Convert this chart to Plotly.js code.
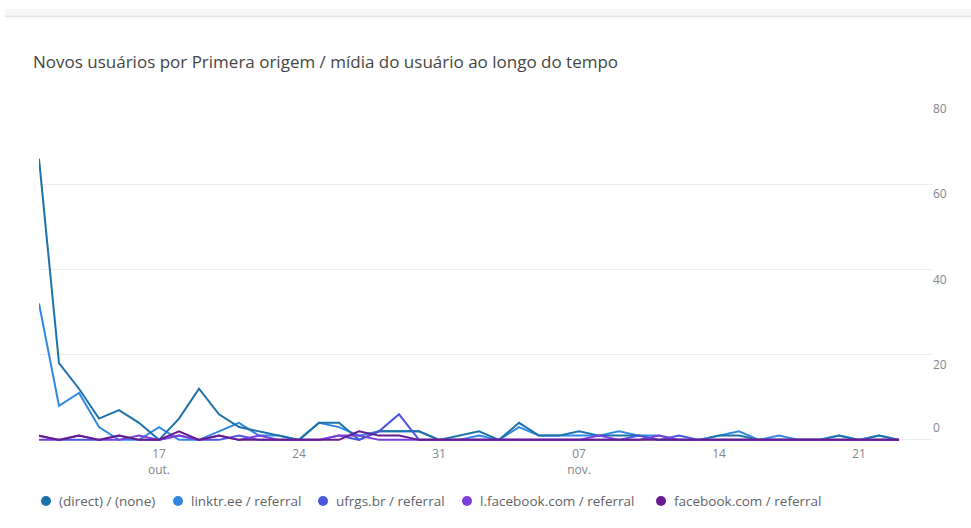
<!DOCTYPE html>
<html>
<head>
<meta charset="utf-8">
<script src="https://cdn.plot.ly/plotly-3.0.1.min.js"></script>
<style>html,body{margin:0;padding:0;background:#fff;}#chart{width:971px;height:528px;}</style>
</head>
<body>
<div id="chart"></div>
<script>
// ---- data ----
const dates = [
  '2021-10-11','2021-10-12','2021-10-13','2021-10-14','2021-10-15','2021-10-16','2021-10-17','2021-10-18','2021-10-19','2021-10-20',
  '2021-10-21','2021-10-22','2021-10-23','2021-10-24','2021-10-25','2021-10-26','2021-10-27','2021-10-28','2021-10-29','2021-10-30',
  '2021-10-31','2021-11-01','2021-11-02','2021-11-03','2021-11-04','2021-11-05','2021-11-06','2021-11-07','2021-11-08','2021-11-09',
  '2021-11-10','2021-11-11','2021-11-12','2021-11-13','2021-11-14','2021-11-15','2021-11-16','2021-11-17','2021-11-18','2021-11-19',
  '2021-11-20','2021-11-21','2021-11-22','2021-11-23'
];
const seriesNames = ['(direct) / (none)', 'linktr.ee / referral', 'ufrgs.br / referral', 'l.facebook.com / referral', 'facebook.com / referral'];
const direct    = [66,18,12,5,7,4,0,5,12,6, 3,2,1,0,4,4,0,2,2,2, 0,1,2,0,4,1,1,2,1,1, 1,0,0,0,1,1,0,0,0,0, 1,0,1,0];
const linktr    = [32,8,11,3,0,0,3,0,0,2, 4,1,1,0,4,3,1,2,2,2, 0,0,1,0,3,1,1,1,1,2, 1,1,0,0,1,2,0,1,0,0, 1,0,1,0];
const ufrgs     = [1,0,0,0,1,0,0,1,0,0, 1,0,0,0,0,1,0,2,6,0, 0,0,0,0,0,0,0,0,0,0, 1,0,1,0,0,0,0,0,0,0, 0,0,0,0];
const lfacebook = [0,0,1,0,0,1,0,1,0,1, 0,1,0,0,0,1,1,0,0,0, 0,0,0,0,0,0,0,0,1,0, 0,1,0,0,0,0,0,0,0,0, 0,0,0,0];
const facebook  = [1,0,1,0,1,0,0,2,0,1, 0,0,0,0,0,0,2,1,1,0, 0,0,0,0,0,0,0,0,0,0, 0,0,0,0,0,0,0,0,0,0, 0,0,0,0];
const xTickVals = ['2021-10-17','2021-10-24','2021-10-31','2021-11-07','2021-11-14','2021-11-21'];
const xTickText = ['17<br>out.','24','31','07<br>nov.','14','21'];
const yTickVals = [0,20,40,60,80];
const yTickText = ['','20','40','60','80'];
const chartTitle = 'Novos usuários por Primera origem / mídia do usuário ao longo do tempo';

// ---- styles ----
const colors = ['#1c72aa', '#3088e3', '#4b55e0', '#7a3ede', '#681a90'];
const legendDotX = [46, 178, 323, 467, 661];   // px
const legendTextX = [57, 189, 334, 478, 672];  // px
const values = [direct, linktr, ufrgs, lfacebook, facebook];

const L = 39, R = 932, T = 99, B = 442, W = 971, H = 528;
const px2x = p => (p - L) / (R - L);
const px2y = p => (B - p) / (B - T);

const drawOrder = [1, 0, 2, 3, 4];
const traces = drawOrder.map(i => ({
  type: 'scatter', mode: 'lines', x: dates, y: values[i], name: seriesNames[i],
  line: {color: colors[i], width: 2}, showlegend: false, hoverinfo: 'skip'
}));
// helper trace for the "0" label on overlay axis
traces.push({type:'scatter', mode:'lines', x:[dates[0]], y:[0], yaxis:'y2', line:{width:0}, showlegend:false, hoverinfo:'skip'});

const annotations = seriesNames.map((n, i) => ({
  xref:'paper', yref:'paper', x: px2x(legendTextX[i]), y: px2y(501), xanchor:'left', yanchor:'middle',
  text: n, showarrow:false, font:{family:'Open Sans', size:13.5, color:'#5f6368'}
}));
const shapes = seriesNames.map((n, i) => ({
  type:'circle', xref:'paper', yref:'paper', xsizemode:'pixel', ysizemode:'pixel',
  xanchor: px2x(legendDotX[i]), yanchor: px2y(501), x0:-5, x1:5, y0:-5, y1:5,
  fillcolor: colors[i], line:{width:0}
}));
// top header shadow
shapes.push({type:'rect', xref:'paper', yref:'paper', x0:px2x(5), x1:px2x(975), y0:px2y(16), y1:px2y(9), fillcolor:'#f6f6f6', line:{width:0}, layer:'below'});
shapes.push({type:'line', xref:'paper', yref:'paper', x0:px2x(5), x1:px2x(975), y0:px2y(16.5), y1:px2y(16.5), line:{color:'#e4e4e4', width:1.5}});

const tickFont = {family: 'Open Sans', size: 12, color: '#80868b'};
const layout = {
  width: W, height: H,
  margin: {l: L, r: W - R, t: T, b: H - B, pad: 0},
  paper_bgcolor: '#ffffff', plot_bgcolor: '#ffffff',
  title: {text: chartTitle, x: 33 / W, xanchor: 'left', xref: 'container', y: 1 - 62 / H, yanchor: 'middle', yref:'container',
          font: {family: 'Open Sans', size: 17, color: '#454545'}},
  xaxis: {type: 'date', range: ['2021-10-11', '2021-11-24 15:36'], tickmode: 'array', tickvals: xTickVals, ticktext: xTickText,
          showgrid: false, zeroline: false, showline: false, ticks: '', fixedrange: true, ticklabelstandoff: 3,
          tickfont: tickFont},
  yaxis: {range: [-0.5, 80], side: 'right', tickmode: 'array', tickvals: yTickVals, ticktext: yTickText,
          showgrid: true, gridcolor: '#ebebeb', gridwidth: 1, zeroline: false, showline: false, ticks: '',
          ticklabelshift: 10, tickfont: tickFont},
  yaxis2: {range: [-0.5, 80], side: 'right', overlaying: 'y', tickmode: 'array', tickvals: [0], ticktext: ['0'],
          showgrid: false, zeroline: false, showline: false, ticks: '',
          ticklabelshift: -12, tickfont: tickFont},
  showlegend: false,
  annotations: annotations,
  shapes: shapes,
  hovermode: false
};

Plotly.newPlot('chart', traces, layout, {staticPlot: true, displayModeBar: false});
</script>
</body>
</html>
